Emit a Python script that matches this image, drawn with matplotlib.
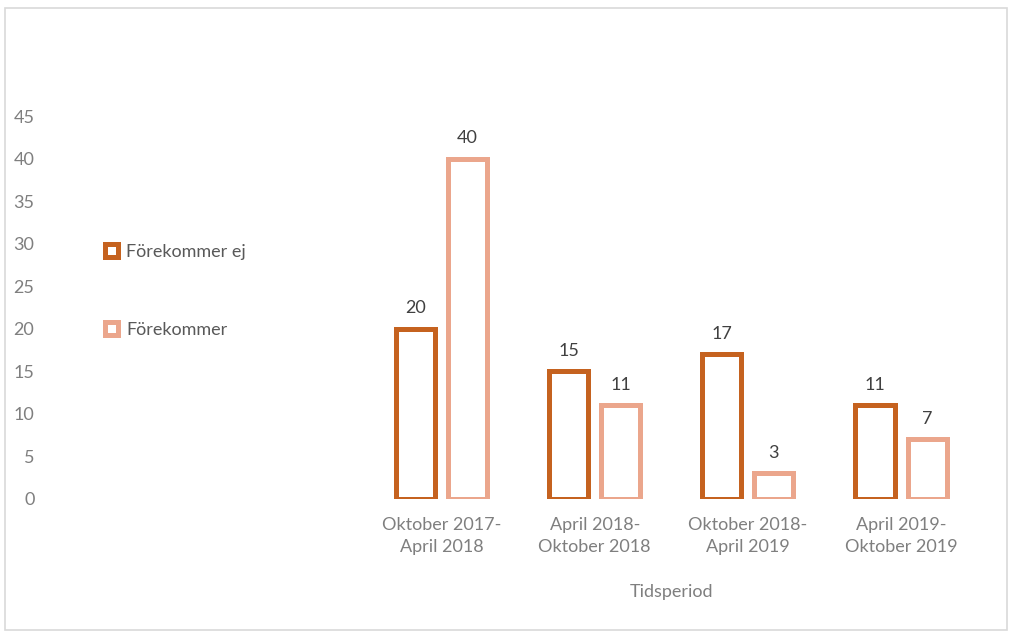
import numpy as np
import matplotlib.pyplot as plt
from matplotlib.patches import Rectangle

plt.rcParams['font.family'] = ['Lato', 'DejaVu Sans']

# data
perioder = ['Oktober 2017-\nApril 2018', 'April 2018-\nOktober 2018',
            'Oktober 2018-\nApril 2019', 'April 2019-\nOktober 2019']
ej = [20, 15, 17, 11]
forekommer = [40, 11, 3, 7]
serier = ['Förekommer ej', 'Förekommer']

mork = '#C5621F'
ljus = '#EBA68C'
grå = '#7F7F7F'

fig = plt.figure(figsize=(10.11, 6.33), dpi=100)
ax = fig.add_axes([0.361, 0.2117, 0.606, 0.605])

x = np.arange(len(perioder))
w = 0.255
off = 0.17
b1 = ax.bar(x - off, ej, w, facecolor='white', edgecolor=mork, linewidth=3.6, label=serier[0])
b2 = ax.bar(x + off, forekommer, w, facecolor='white', edgecolor=ljus, linewidth=3.6, label=serier[1])

for bars in (b1, b2):
    for r in bars:
        ax.annotate(str(int(r.get_height())), (r.get_x() + r.get_width() / 2, r.get_height()),
                    xytext=(0, 9), textcoords='offset points', ha='center', va='bottom',
                    fontsize=13, color='#404040')

ax.set_xlim(-0.5, 3.5)
ax.set_ylim(0, 45)
ax.set_yticks(range(0, 50, 5))
ax.set_xticks(x)
ax.set_xticklabels(perioder, fontsize=13, color=grå, linespacing=1.45)
ax.tick_params(axis='y', length=0, pad=238, labelsize=13, labelcolor=grå)
ax.tick_params(axis='x', length=0, pad=13)
ax.set_xlabel('Tidsperiod', fontsize=13, color=grå, labelpad=21)
for s in ax.spines.values():
    s.set_visible(False)

fig.legend(handles=[b1, b2], labels=serier, loc='upper left',
           bbox_to_anchor=(0.088, 0.64), frameon=False, fontsize=13,
           labelcolor='#595959', handlelength=0.72, handleheight=0.72,
           handletextpad=0.45, labelspacing=3.4)

fig.patches.append(Rectangle((5 / 1011, 3 / 633), 1002 / 1011, 622 / 633,
                             transform=fig.transFigure, fill=False,
                             edgecolor='#D9D9D9', linewidth=1.2))

fig.savefig('out.png', dpi=100)
